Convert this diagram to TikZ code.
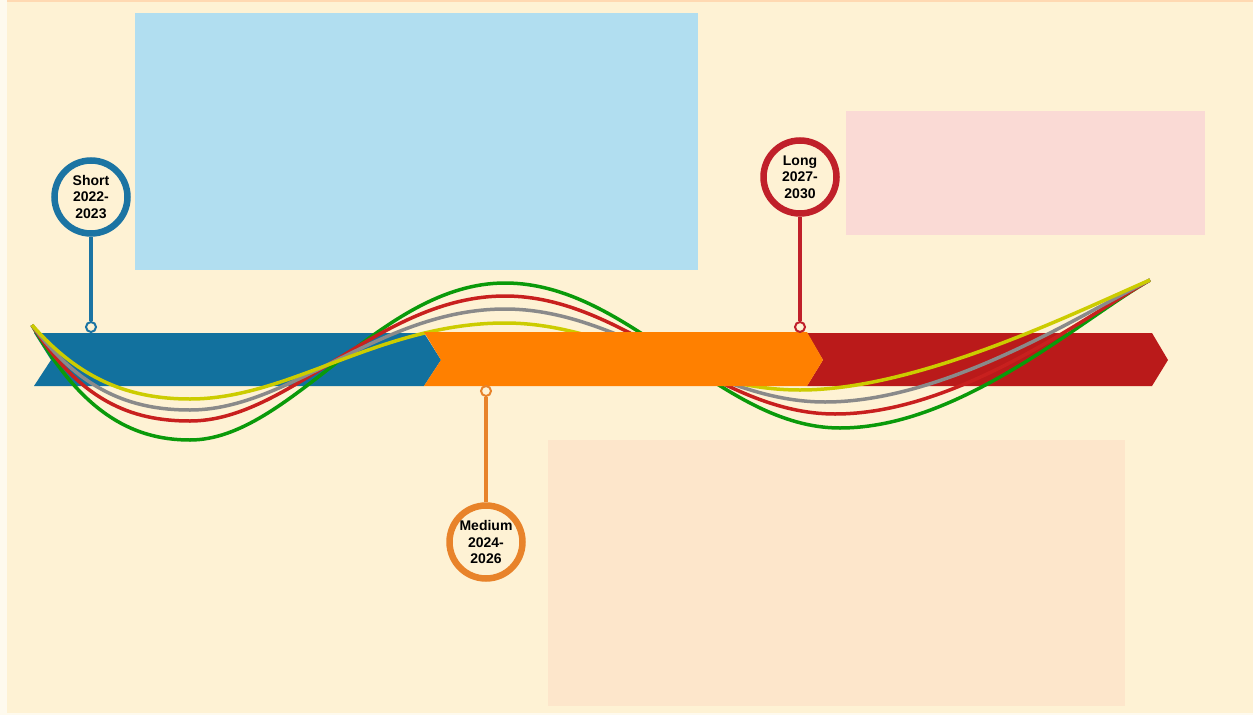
\documentclass[tikz,border=0pt]{standalone}
\usepackage{fontspec}
\setmainfont{Liberation Sans}
\usepackage{tikz}

\definecolor{cream}{HTML}{FEF2D4}
\definecolor{skyfill}{HTML}{B1DEF0}
\definecolor{pinkfill}{HTML}{FADAD5}
\definecolor{peachfill}{HTML}{FDE6CB}
\definecolor{barblue}{HTML}{12719E}
\definecolor{barorange}{HTML}{FF8000}
\definecolor{barred}{HTML}{BA1A1A}
\definecolor{pinblue}{HTML}{1B74A3}
\definecolor{pinorange}{HTML}{E8832A}
\definecolor{pinred}{HTML}{C0202A}
\definecolor{wavegreen}{HTML}{0A9A0A}
\definecolor{wavered}{HTML}{C8201E}
\definecolor{wavegray}{HTML}{8A8A8A}
\definecolor{waveyellow}{HTML}{CCCC00}

\tikzset{
  pinring/.style={circle, draw=#1, line width=6.5pt, minimum size=73pt, inner sep=0pt,
    align=center, font=\bfseries\fontsize{14}{16.5}\selectfont},
  pindot/.style={circle, draw=#1, fill=cream, line width=2pt, minimum size=10pt, inner sep=0pt},
  pinstem/.style={draw=#1, line width=4pt},
  wave/.style={draw=#1, line width=3.5pt}
}

\begin{document}
\begin{tikzpicture}[x=1pt, y=-1pt]
\useasboundingbox (0,0) rectangle (1253,715);
\fill[white!60!cream] (0,0) rectangle (1253,715);
\fill[cream] (7,1) rectangle (1253,713);
\fill[orange!30] (7,0) rectangle (1253,1.5);

% boxes
\fill[skyfill] (135,13) rectangle (698,270);
\fill[pinkfill] (846,111) rectangle (1205,235);
\fill[peachfill] (548,440) rectangle (1125,706);

% bars
\fill[barblue] (34,333) -- (424,333) -- (441,360) -- (424,386) -- (34,386) -- (51,360) -- cycle;
\fill[barred] (807,333) -- (1152,333) -- (1168,360) -- (1152,386) -- (807,386) -- (823,360) -- cycle;

% waves
\draw[wave=wavegreen] (32,325) .. controls (80,410) and (130,440) .. (190,440)
  .. controls (290,440) and (380,283) .. (505,283)
  .. controls (630,283) and (720,428) .. (840,428)
  .. controls (960,428) and (1080,320) .. (1150,280);
\draw[wave=wavered] (32,325) .. controls (80,400) and (130,421) .. (190,421)
  .. controls (290,421) and (380,296) .. (505,296)
  .. controls (625,296) and (715,414) .. (835,414)
  .. controls (955,414) and (1080,320) .. (1150,280);
\draw[wave=wavegray] (32,325) .. controls (80,390) and (130,410) .. (190,410)
  .. controls (290,410) and (380,309) .. (505,309)
  .. controls (620,309) and (710,402) .. (825,402)
  .. controls (945,402) and (1080,315) .. (1150,280);
\draw[wave=waveyellow] (32,325) .. controls (80,380) and (130,399) .. (190,399)
  .. controls (290,399) and (380,323) .. (505,323)
  .. controls (610,323) and (690,390) .. (800,390)
  .. controls (920,390) and (1080,310) .. (1150,280);

\fill[barorange] (424,332) -- (807,332) -- (823,360) -- (807,386) -- (424,386) -- (441,360) -- cycle;

% pins
\node[pinring=pinblue] (short) at (91,197) {Short\\2022-\\2023};
\node[pindot=pinblue] (shortdot) at (91,327) {};
\draw[pinstem=pinblue] (short) -- (shortdot);

\node[pinring=pinorange] (medium) at (486,542) {Medium\\2024-\\2026};
\node[pindot=pinorange] (mediumdot) at (486,391) {};
\draw[pinstem=pinorange] (medium) -- (mediumdot);

\node[pinring=pinred] (long) at (800,177) {Long\\2027-\\2030};
\node[pindot=pinred] (longdot) at (800,327) {};
\draw[pinstem=pinred] (long) -- (longdot);
\end{tikzpicture}
\end{document}
